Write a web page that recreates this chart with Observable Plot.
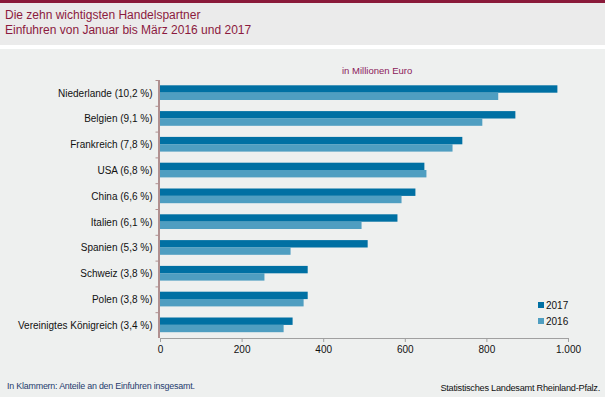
<!DOCTYPE html>
<html>
<head>
<meta charset="utf-8">
<script src="https://cdn.jsdelivr.net/npm/d3@7"></script>
<script src="https://cdn.jsdelivr.net/npm/@observablehq/plot@0.6"></script>
<style>
  html, body { margin: 0; padding: 0; }
  body { width: 605px; height: 397px; position: relative; overflow: hidden; background: #eef0ef; font-family: "Liberation Sans", Arial, sans-serif; }
  #topbar { position: absolute; left: 0; top: 0; width: 605px; height: 3px; background: #8a1a3a; }
  #titlebox { position: absolute; left: 0; top: 3px; width: 605px; height: 42px; background: #ebebeb; }
  #sep { position: absolute; left: 0; top: 45px; width: 605px; height: 4px; background: #ffffff; }
  #title { position: absolute; left: 5px; top: 8px; font-size: 12px; line-height: 14.5px; color: #8b1a3e; }
  #chart { position: absolute; left: 0; top: 49px; }
  #chart svg { display: block; }
  #unit { position: absolute; left: 342px; top: 65px; font-size: 9.5px; color: #8b1a5a; }
  #legend { position: absolute; left: 538px; top: 297px; font-size: 10px; color: #111; }
  .li { display: flex; align-items: center; height: 16px; }
  .sw { width: 6px; height: 6px; margin-right: 2px; }
  #note { position: absolute; left: 7px; top: 381px; font-size: 8.9px; color: #1f3c6e; letter-spacing: -0.2px; }
  #source { position: absolute; right: 5px; top: 383px; font-size: 9.2px; color: #111; letter-spacing: -0.25px; }
</style>
</head>
<body>
<div id="topbar"></div>
<div id="titlebox"></div>
<div id="sep"></div>
<div id="title">Die zehn wichtigsten Handelspartner<br>Einfuhren von Januar bis März 2016 und 2017</div>
<div id="chart"></div>
<div id="unit">in Millionen Euro</div>
<div id="legend"></div>
<div id="note">In Klammern: Anteile an den Einfuhren insgesamt.</div>
<div id="source">Statistisches Landesamt Rheinland-Pfalz.</div>
<script>
const countries = ["Niederlande (10,2 %)", "Belgien (9,1 %)", "Frankreich (7,8 %)", "USA (6,8 %)", "China (6,6 %)", "Italien (6,1 %)", "Spanien (5,3 %)", "Schweiz (3,8 %)", "Polen (3,8 %)", "Vereinigtes Königreich (3,4 %)"];
const values2017 = [974, 871, 741, 648, 626, 582, 509, 362, 362, 325];
const values2016 = [829, 790, 717, 653, 592, 494, 320, 256, 352, 303];
const years = ["2017", "2016"];
const colors = ["#0070a3", "#4f9ec1"];
const xTicks = [0, 200, 400, 600, 800, 1000];

const data = [];
countries.forEach((c, i) => {
  data.push({country: c, year: "2017", value: values2017[i]});
  data.push({country: c, year: "2016", value: values2016[i]});
});

const fmt = d3.formatLocale({decimal: ",", thousands: ".", grouping: [3], currency: ["", " €"]}).format(",d");

const plot = Plot.plot({
  width: 605,
  height: 348,
  marginLeft: 160,
  marginRight: 37,
  marginTop: 31,
  marginBottom: 59,
  style: {background: "transparent", fontFamily: "'Liberation Sans', Arial, sans-serif", fontSize: "10px", color: "#111"},
  x: {domain: [0, 1000], axis: null},
  y: {domain: countries, padding: 0, round: false, axis: null},
  color: {domain: years, range: colors},
  marks: [
    Plot.barX(data.filter(d => d.year === "2017"), {x: "value", y: "country", fill: "year", insetTop: 5.3, insetBottom: 13.1}),
    Plot.barX(data.filter(d => d.year === "2016"), {x: "value", y: "country", fill: "year", insetTop: 12.6, insetBottom: 5.8}),
    Plot.axisY({tickSize: 0, tickPadding: 8, fontSize: 10, fill: "#111", label: null}),
    Plot.axisY({tickSize: 3.5, text: null, stroke: "#b09090", dy: -12.9, dx: -1, label: null}),
    Plot.axisX({ticks: xTicks, tickFormat: fmt, tickSize: 4, stroke: "#a0a0a0", tickPadding: 3, fontSize: 10, fill: "#111", label: null}),
    Plot.frame({anchor: "bottom", stroke: "#a0a0a0"}),
    Plot.ruleX([0], {stroke: "#b09090", strokeWidth: 2, dx: -1.5})
  ]
});
document.getElementById("chart").appendChild(plot);

const leg = document.getElementById("legend");
years.forEach((y, i) => {
  const row = document.createElement("div");
  row.className = "li";
  row.innerHTML = `<span class="sw" style="background:${colors[i]}"></span><span>${y}</span>`;
  leg.appendChild(row);
});
</script>
</body>
</html>
